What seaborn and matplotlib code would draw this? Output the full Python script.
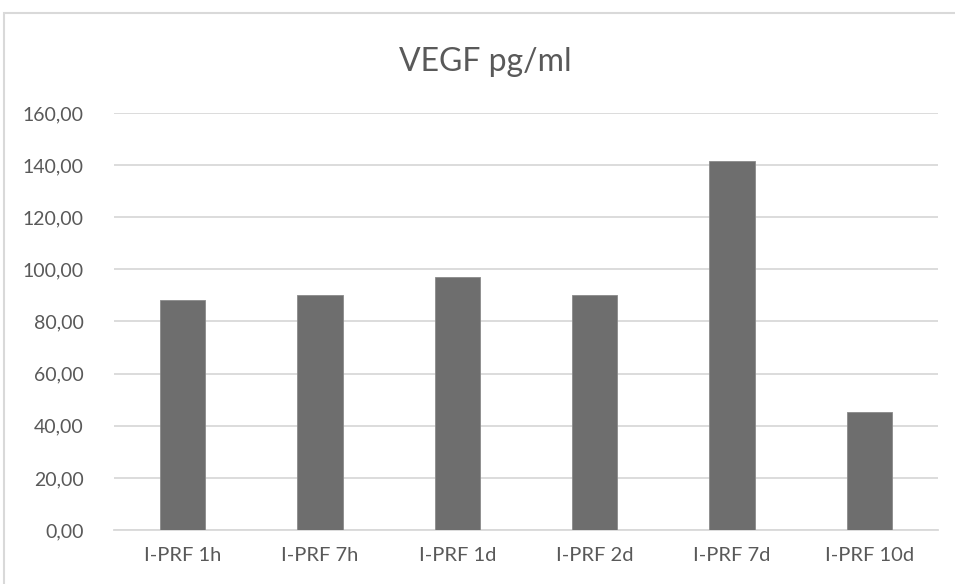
import matplotlib
matplotlib.use("Agg")
import matplotlib.pyplot as plt
from matplotlib.patches import Rectangle
import seaborn as sns
import pandas as pd

categories = ["I-PRF 1h", "I-PRF 7h", "I-PRF 1d", "I-PRF 2d", "I-PRF 7d", "I-PRF 10d"]
vegf_values = [88.2, 90.1, 96.9, 90.1, 141.7, 45.2]
y_ticks = [0, 20, 40, 60, 80, 100, 120, 140, 160]
title_text = "VEGF pg/ml"

sns.set_theme(style="white")
plt.rcParams["font.family"] = ["Lato", "DejaVu Sans"]

text_color = "#595959"
grid_color = "#d9d9d9"
bar_color = "#6e6e6e"

df = pd.DataFrame({"category": categories, "value": vegf_values})

fig = plt.figure(figsize=(9.55, 5.84), dpi=100)
ax = fig.add_axes([114 / 955, 1 - 530 / 584, (938 - 114) / 955, (530 - 113) / 584])

# chart-area frame
fig.patches.append(Rectangle((4 / 955, -0.1), 1.2, 1 - 13 / 584 + 0.1,
                             transform=fig.transFigure, fill=False,
                             edgecolor=grid_color, linewidth=1.5, zorder=0))

sns.barplot(data=df, x="category", y="value", color=bar_color, width=0.33,
            saturation=1, edgecolor="#8a8a8a", linewidth=0.6, ax=ax, zorder=3)

ax.set_ylim(0, 160)
ax.set_yticks(y_ticks)
ax.set_yticklabels([f"{v:.2f}".replace(".", ",") for v in y_ticks])
ax.set_xlim(-0.5, len(categories) - 0.5)
ax.yaxis.grid(True, color=grid_color, linewidth=1.3, zorder=0)
ax.set_axisbelow(True)
for side in ["top", "right", "left"]:
    ax.spines[side].set_visible(False)
ax.spines["bottom"].set_color(grid_color)
ax.spines["bottom"].set_linewidth(1.3)
ax.tick_params(axis="y", length=0, pad=22, labelsize=14, labelcolor=text_color)
ax.tick_params(axis="x", length=0, pad=12, labelsize=14.5, labelcolor=text_color)
ax.set_xlabel("")
ax.set_ylabel("")

fig.text(485 / 955, 1 - 62 / 584, title_text, ha="center", va="center",
         fontsize=23, color=text_color)

fig.savefig("out.png", dpi=100)
